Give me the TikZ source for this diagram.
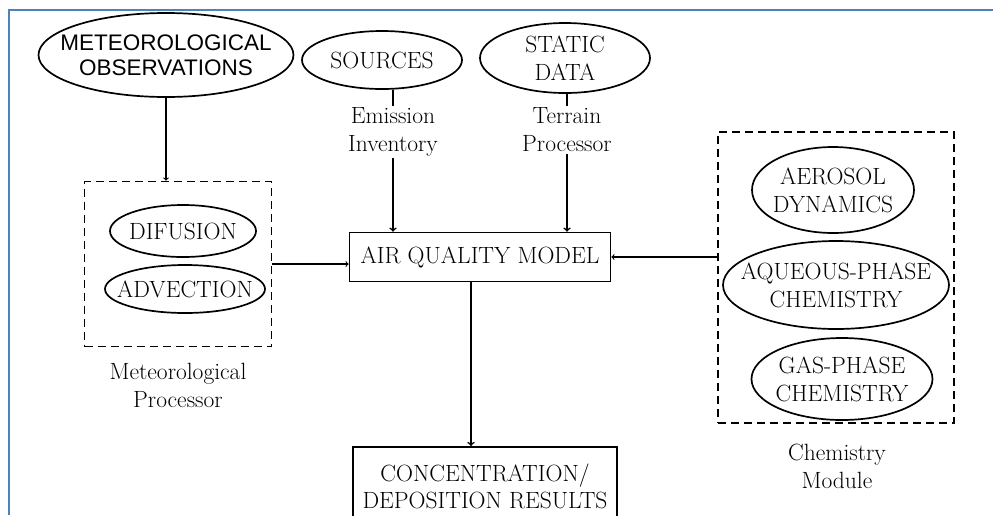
\documentclass[tikz,border=0pt]{standalone}
\usepackage{fontspec}
\newfontfamily\obsfont{Liberation Sans}
\usetikzlibrary{arrows,shapes.geometric}
\definecolor{frameblue}{RGB}{79,129,189}

\begin{document}
\begin{tikzpicture}[x = 1pt, y = 1pt, line width = 1.6pt, >= to,
		oval/.style = {draw, ellipse, line width = 1.7pt, inner xsep = -25pt, inner ysep = -10pt, align = center, font = \fontsize{23.5}{28}\selectfont},
		dashbox/.style = {draw, line width = 1.7pt, dash pattern = on 8pt off 5pt},
		modelbox/.style = {draw, inner sep = 0pt, align = center, font = \fontsize{23.5}{27}\selectfont},
		note/.style = {align = center, inner sep = 1pt, font = \fontsize{23.5}{28}\selectfont},
		thin arrow/.style = {->, line width = 1.1pt}]
		\clip (0, 0) rectangle (993, -515);
		\draw [frameblue, line width = 2pt] (993, -10) -- (9, -10) -- (9, -515);
		% inputs on top
		\node [oval, minimum width = 255, minimum height = 84, font = \obsfont\fontsize{22.5}{25}\selectfont] (metobs) at (166, -55) {METEOROLOGICAL\\OBSERVATIONS};
		\node [oval, minimum width = 160, minimum height = 58] (sources) at (382, -60) {SOURCES};
		\node [oval, minimum width = 170, minimum height = 70] (static) at (565, -58) {STATIC\\DATA};
		\node [note] (emis) at (393, -132) {Emission\\Inventory};
		\node [note] (terrain) at (567, -130) {Terrain\\Processor};
		% model and output
		\node [modelbox, minimum width = 261, minimum height = 49] (aqm) at (480, -257) {AIR QUALITY MODEL};
		\node [modelbox, minimum width = 264, minimum height = 80, anchor = north] (conc) at (485, -446) {CONCENTRATION/\\DEPOSITION RESULTS};
		% meteorological processor
		\node [dashbox, minimum width = 187, minimum height = 165] (metbox) at (178, -264) {};
		\node [oval, minimum width = 146, minimum height = 52] (dif) at (183, -231) {DIFUSION};
		\node [oval, minimum width = 160, minimum height = 48] (adv) at (185, -289) {ADVECTION};
		\node [note] (metproc) at (178, -385) {Meteorological\\Processor};
		% chemistry module
		\node [dashbox, minimum width = 236, minimum height = 291] (chembox) at (836, -277.5) {};
		\node [oval, minimum width = 162, minimum height = 86] (aero) at (833, -190) {AEROSOL\\DYNAMICS};
		\node [oval, minimum width = 226, minimum height = 88] (aqueous) at (836, -285) {AQUEOUS-PHASE\\CHEMISTRY};
		\node [oval, minimum width = 181, minimum height = 82] (gas) at (842, -379) {GAS-PHASE\\CHEMISTRY};
		\node [note] (chemmod) at (837, -466) {Chemistry\\Module};
		% connectors
		\draw [thin arrow] (metobs.south) -- (metobs.south |- metbox.north);
		\draw (emis.north |- sources.south) -- (emis.north);
		\draw [->] (emis.south) -- (emis.south |- aqm.north);
		\draw (terrain.north |- static.south) -- (terrain.north);
		\draw [->] (terrain.south) -- (terrain.south |- aqm.north);
		\draw [thin arrow] (metbox.east) -- (metbox.east -| aqm.west);
		\draw [thin arrow] (chembox.west |- aqm.east) -- (aqm.east);
		\draw [->] ([xshift = -9pt]aqm.south) -- ([xshift = -9pt]aqm.south |- conc.north);
	\end{tikzpicture}
\end{document}
